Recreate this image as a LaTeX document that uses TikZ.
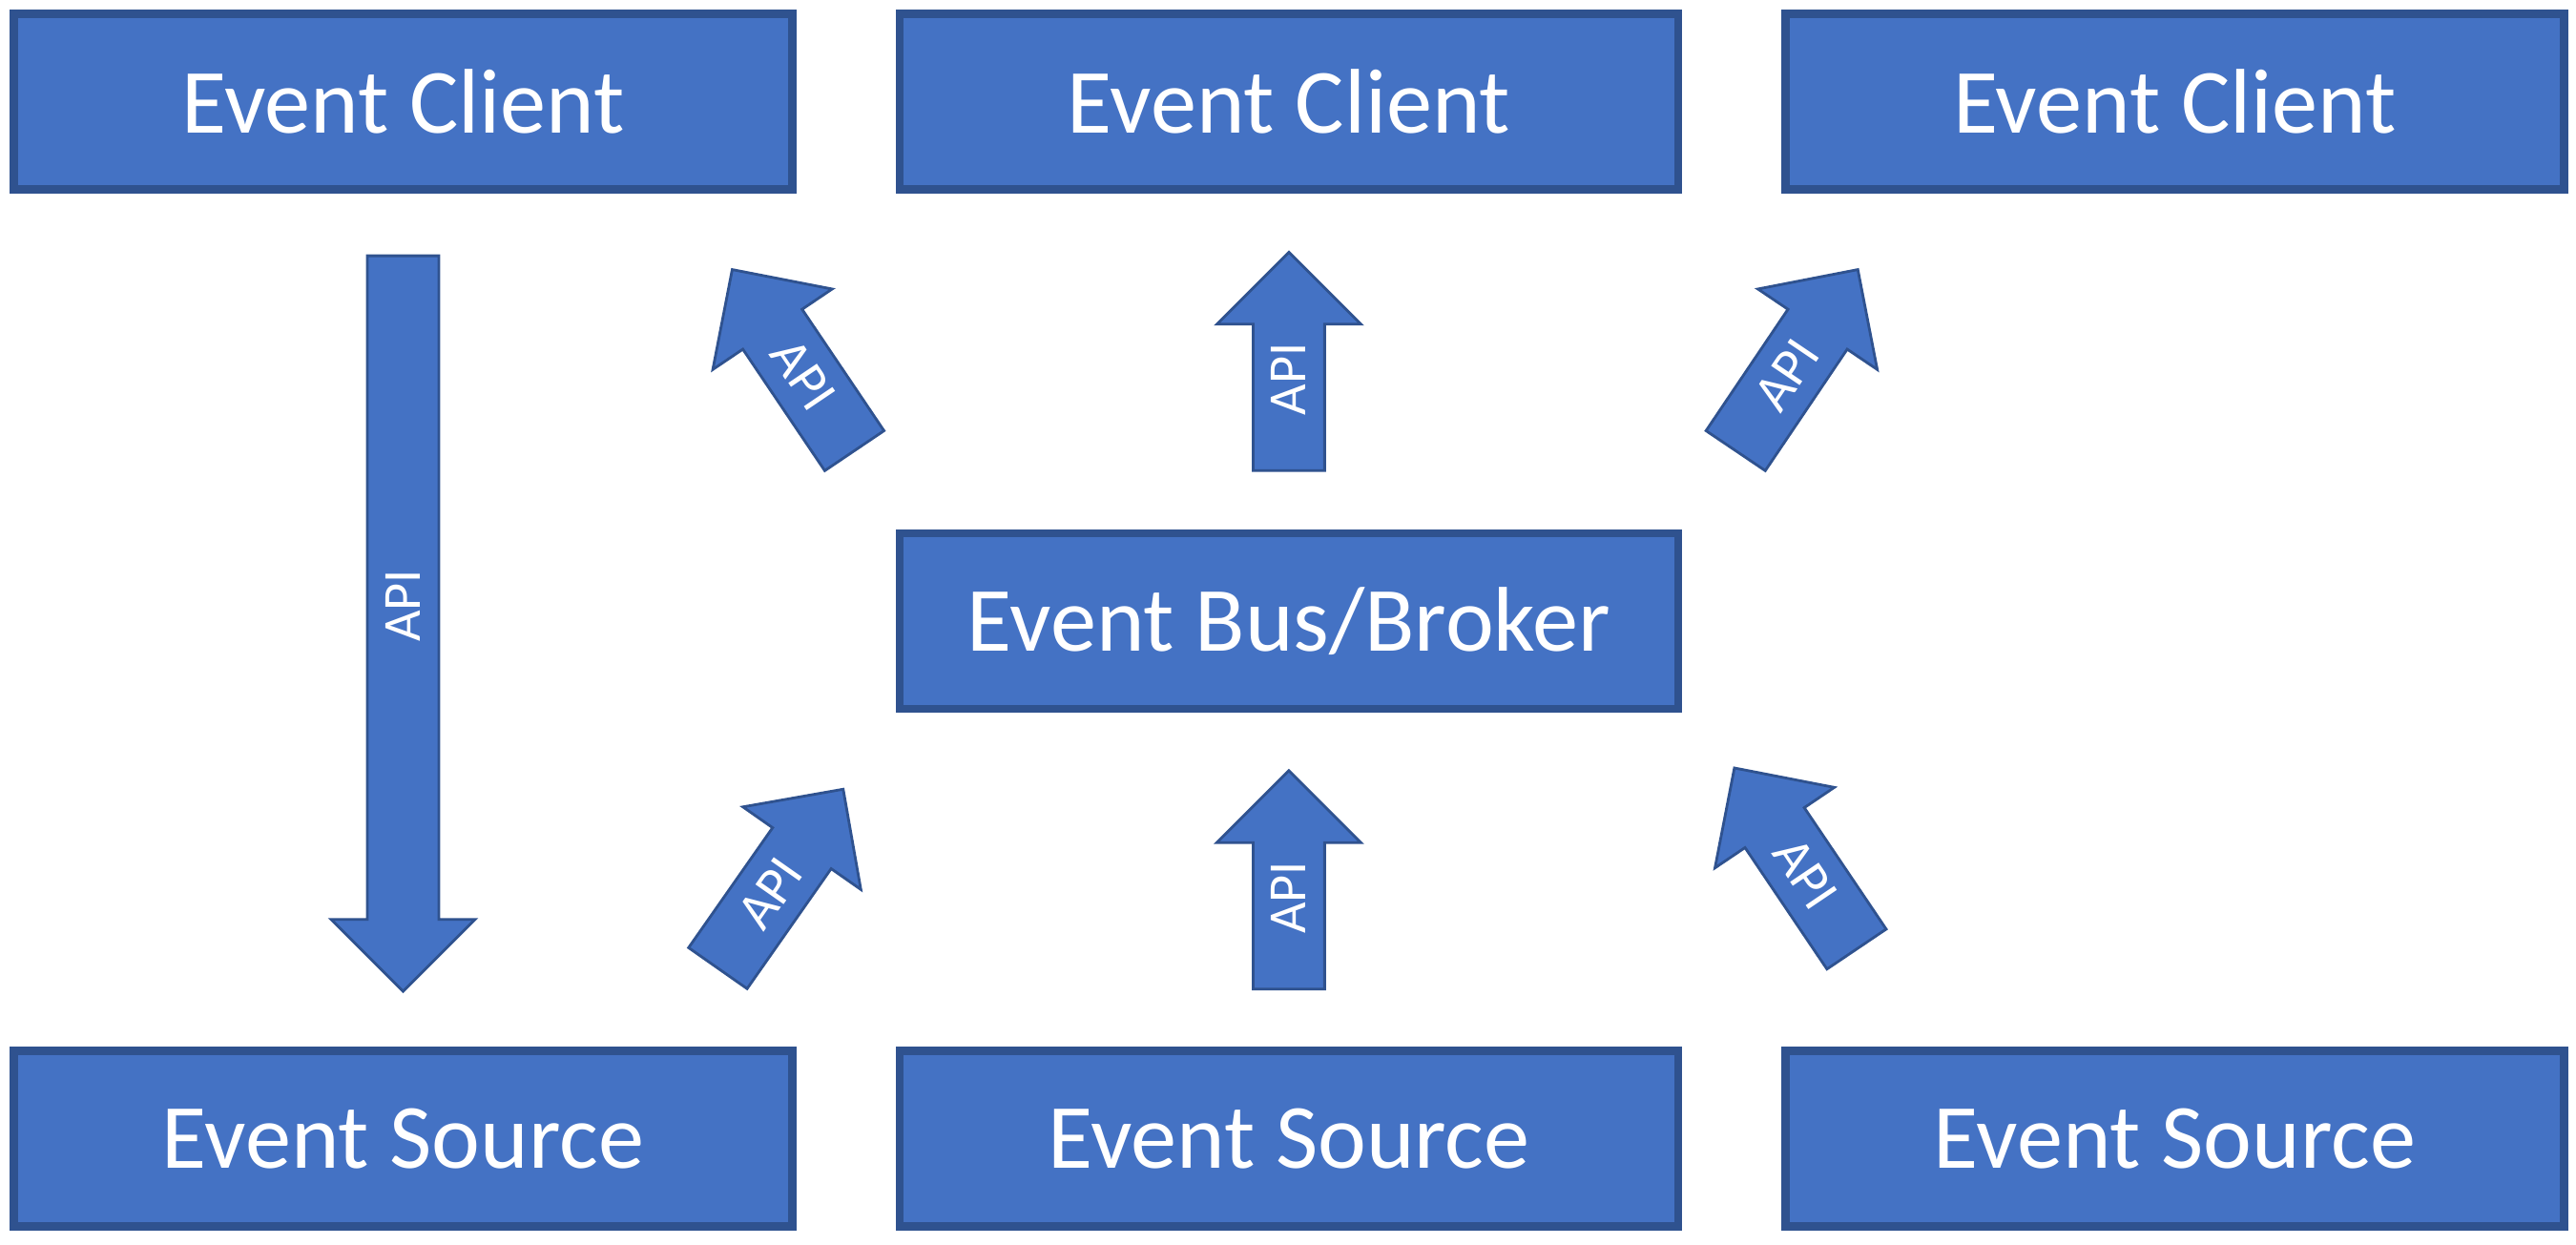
\documentclass[tikz,border=0pt]{standalone}
\usepackage{fontspec}
\setmainfont{Carlito}
\usetikzlibrary{shapes.arrows,positioning,calc}
\definecolor{boxblue}{HTML}{4472C4}
\definecolor{edgeblue}{HTML}{2F528F}

\begin{document}
\begin{tikzpicture}[
    block/.style={rectangle, draw=edgeblue, line width=2.4pt, fill=boxblue, text=white, minimum width=8.16cm, minimum height=1.84cm, font=\fontsize{27.4}{31}\selectfont},
    apiarrow/.style={single arrow, draw=edgeblue, line width=0.8pt, fill=boxblue, text=white, minimum height=2.29cm, single arrow head extend=0.38cm, single arrow tip angle=90, single arrow head indent=0pt, inner xsep=1pt, inner ysep=0.18cm, anchor=tail, font=\fontsize{16}{18}\selectfont},
    node distance=1.04cm
]
    \useasboundingbox (0,0) rectangle (27,13.04);

    % Clients on top
    \node[block] (client1) at (4.225,11.975) {Event Client};
    \node[block, right=of client1] (client2) {Event Client};
    \node[block, right=of client2] (client3) {Event Client};

    % Bus in the middle
    \node[block, below=3.52cm of client2] (broker) {Event Bus/Broker};

    % Sources below
    \node[block, below=3.5cm of broker] (source2) {Event Source};
    \node[block, left=of source2] (source1) {Event Source};
    \node[block, right=of source2] (source3) {Event Source};

    % API arrows, placed by their tails
    \node[apiarrow, minimum height=7.71cm, rotate=90, shape border rotate=180] (direct) at ($(client1.south)+(0,-0.64)$) {API};
    \node[apiarrow, rotate=90] (pubmid) at ($(broker.north)+(0,0.60)$) {API};
    \node[apiarrow, rotate=90] (submid) at ($(source2.north)+(0,0.59)$) {API};
    \node[apiarrow, rotate=-56, shape border rotate=180] (publeft) at (8.963,8.304) {API};
    \node[apiarrow, rotate=56] (pubright) at (18.184,8.304) {API};
    \node[apiarrow, rotate=55] (subleft) at (7.516,2.88) {API};
    \node[apiarrow, rotate=-56, shape border rotate=180] (subright) at (19.467,3.08) {API};

\end{tikzpicture}
\end{document}
